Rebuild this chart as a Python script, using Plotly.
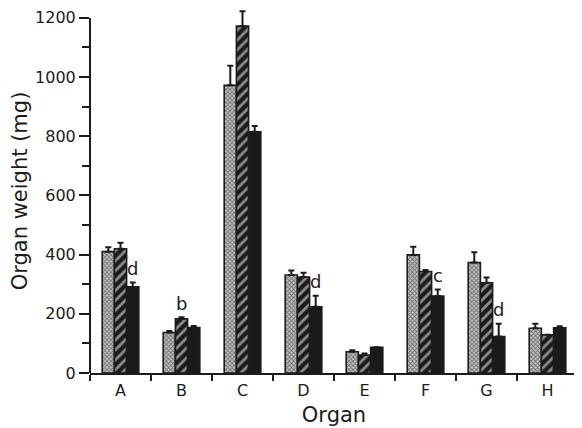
import plotly.graph_objects as go

organs = ["A", "B", "C", "D", "E", "F", "G", "H"]

# three groups (bar 1: dotted, bar 2: hatched, bar 3: solid)
group1_mean = [410, 137, 972, 331, 72, 399, 373, 151]
group1_err = [15, 5, 66, 15, 5, 28, 35, 15]
group2_mean = [420, 183, 1172, 324, 61, 343, 305, 129]
group2_err = [20, 5, 50, 15, 5, 5, 18, 0]
group3_mean = [291, 154, 815, 224, 87, 260, 123, 153]
group3_err = [15, 5, 20, 37, 0, 22, 43, 5]

# significance letters: (organ, letter, which bar it sits over: 1..3)
sig_organs = ["A", "B", "D", "F", "G"]
sig_letters = ["d", "b", "d", "c", "d"]
sig_bar = [3, 2, 3, 3, 3]

y_ticks = [0, 200, 400, 600, 800, 1000, 1200]

INK = "#1c1c1c"
FONT = "DejaVu Sans"

def err(vals):
    return dict(type="data", symmetric=False, array=vals,
                arrayminus=[0] * len(vals), color=INK, thickness=2, width=3)

fig = go.Figure()
fig.add_trace(go.Bar(
    x=organs, y=group1_mean, error_y=err(group1_err),
    marker=dict(color="#a8a8a8", line=dict(color=INK, width=1.6),
                pattern=dict(shape="x", size=3, solidity=0.5,
                             fgcolor="#1a1a1a", bgcolor="#c4c4c4")),
    showlegend=False))
fig.add_trace(go.Bar(
    x=organs, y=group2_mean, error_y=err(group2_err),
    marker=dict(color="#1a1a1a", line=dict(color=INK, width=1.6),
                pattern=dict(shape="/", size=7, solidity=0.4,
                             fgcolor="#ffffff", bgcolor="#1a1a1a")),
    showlegend=False))
fig.add_trace(go.Bar(
    x=organs, y=group3_mean, error_y=err(group3_err),
    marker=dict(color="#1a1a1a", line=dict(color=INK, width=1.6)),
    showlegend=False))

means = [group1_mean, group2_mean, group3_mean]
errs = [group1_err, group2_err, group3_err]
bar_px = 12.2
for org, letter, b in zip(sig_organs, sig_letters, sig_bar):
    i = organs.index(org)
    top = means[b - 1][i] + errs[b - 1][i]
    fig.add_annotation(x=org, y=top, text=letter, showarrow=False,
                       xshift=(b - 2) * bar_px, yshift=14, yanchor="middle",
                       font=dict(family=FONT, size=18, color=INK))

# y axis line only up to 1200
fig.add_shape(type="line", xref="paper", yref="y", x0=0, x1=0, y0=0, y1=1200,
              line=dict(color=INK, width=2))

# page body has an 8px margin, so the figure is 8px smaller on each axis
fig.update_layout(
    width=574, height=420,
    margin=dict(l=82, r=4, t=1, b=55, autoexpand=False),
    paper_bgcolor="white", plot_bgcolor="white",
    barmode="group", bargap=0.4, bargroupgap=0,
    font=dict(family=FONT, color=INK),
    xaxis=dict(
        type="category", categoryorder="array", categoryarray=organs,
        range=[-0.5, 7.5], tickson="boundaries", automargin=False,
        showline=True, linecolor=INK, linewidth=2,
        ticks="outside", ticklen=6, tickwidth=2, tickcolor=INK,
        showgrid=False, zeroline=False, ticklabelstandoff=2,
        tickfont=dict(family=FONT, size=16, color=INK),
        title=dict(text="Organ", font=dict(family=FONT, size=21, color=INK),
                   standoff=8),
    ),
    yaxis=dict(
        range=[0, 1230], tickvals=y_ticks, ticktext=[str(v) for v in y_ticks],
        showline=False, showgrid=False, zeroline=False, automargin=False,
        ticks="outside", ticklen=10, tickwidth=2, tickcolor=INK,
        minor=dict(ticks="outside", dtick=100, tick0=0, ticklen=7,
                   tickwidth=2, tickcolor=INK, showgrid=False),
        tickfont=dict(family=FONT, size=16, color=INK),
        title=dict(text="Organ weight (mg)",
                   font=dict(family=FONT, size=21, color=INK), standoff=2),
    ),
)

fig.write_html("out.html")
